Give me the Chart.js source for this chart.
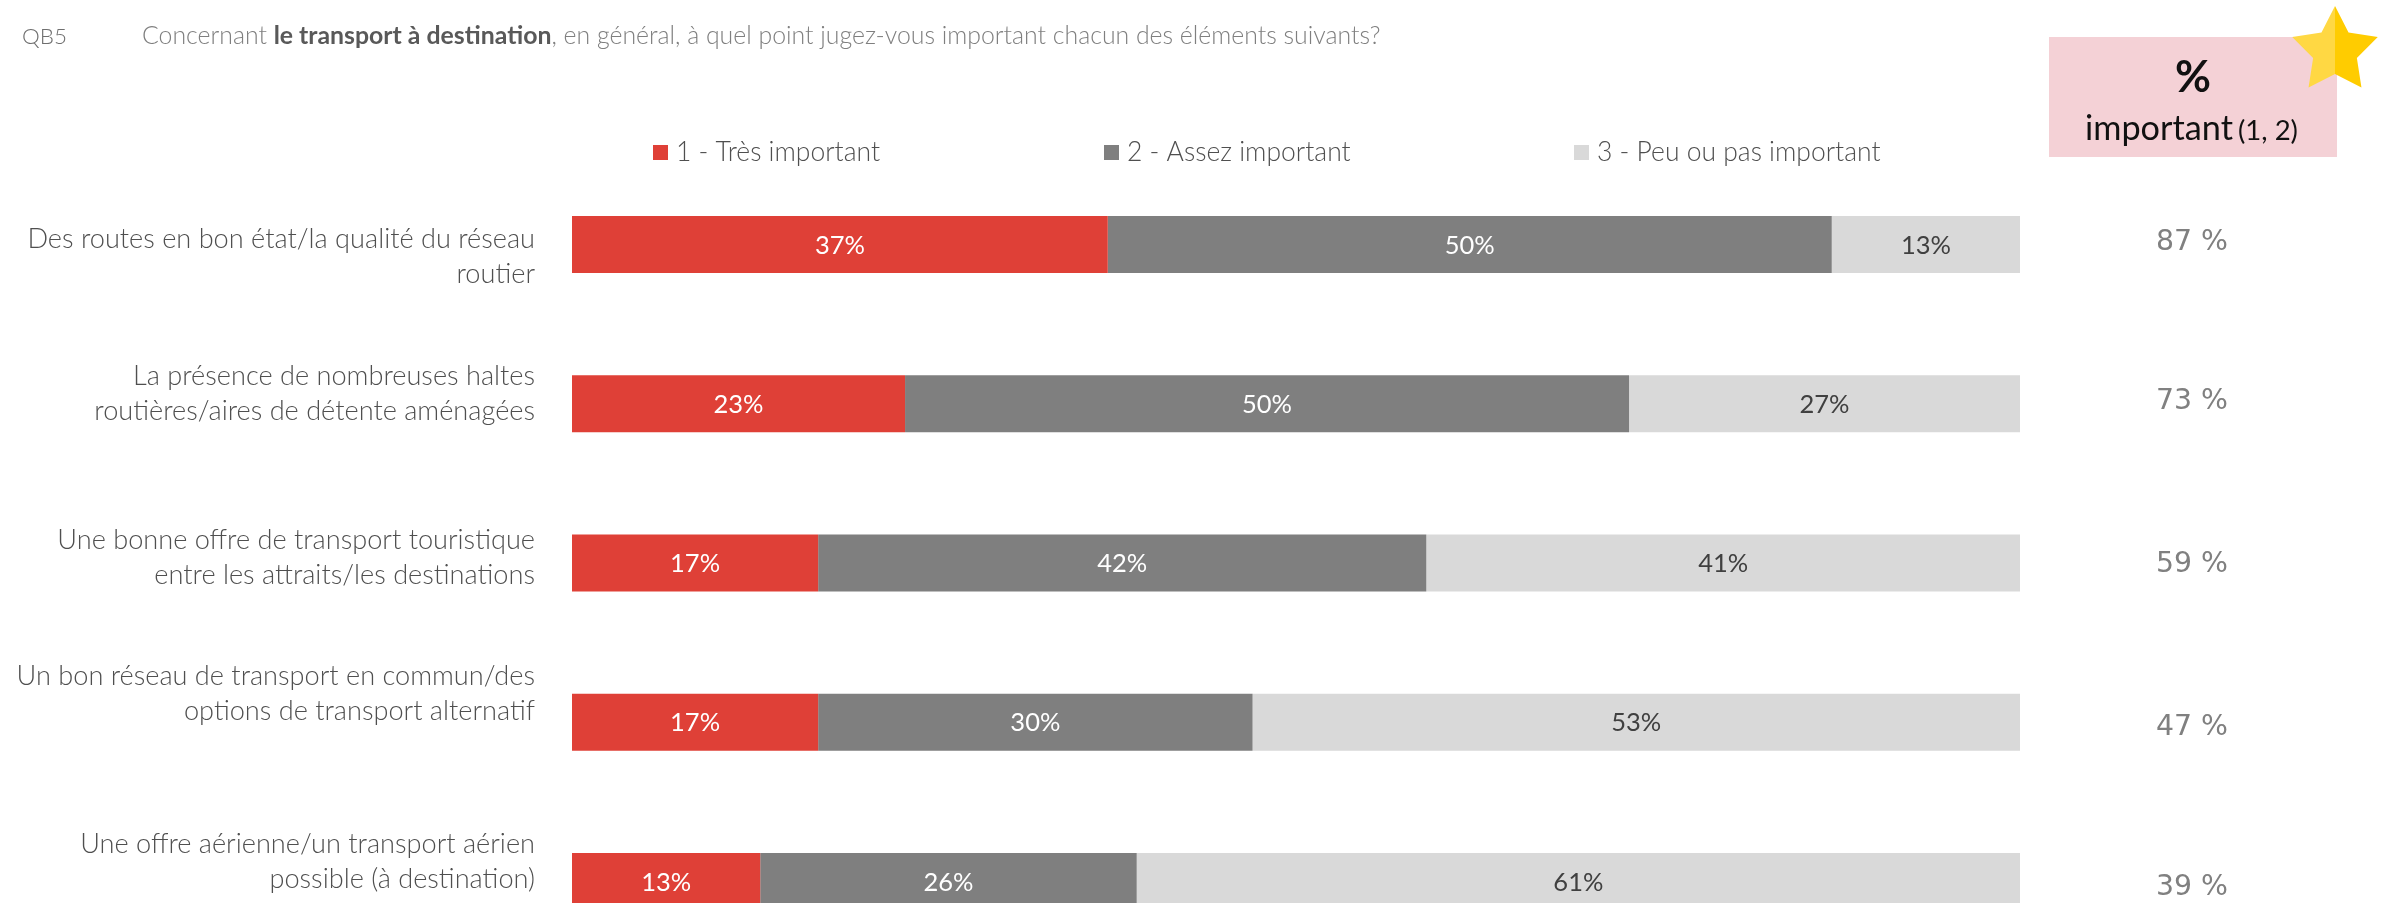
<!DOCTYPE html>
<html><head><meta charset="utf-8">
<script src="https://cdn.jsdelivr.net/npm/chart.js@4.4.1/dist/chart.umd.min.js"></script>
<style>
html,body{margin:0;padding:0;background:#fff;overflow:hidden;width:2392px;height:903px}
#wrap{position:relative;width:2392px;height:961px}
</style>
</head><body><div id="wrap"><canvas id="c" width="2392" height="961"></canvas></div>
<script>
// ---- data ----
const categories = [
  ["Des routes en bon état/la qualité du réseau", "routier"],
  ["La présence de nombreuses haltes", "routières/aires de détente aménagées"],
  ["Une bonne offre de transport touristique", "entre les attraits/les destinations"],
  ["Un bon réseau de transport en commun/des", "options de transport alternatif"],
  ["Une offre aérienne/un transport aérien", "possible (à destination)"]
];
const seriesNames = ["1 - Très important", "2 - Assez important", "3 - Peu ou pas important"];
const tresImportant = [37, 23, 17, 17, 13];
const assezImportant = [50, 50, 42, 30, 26];
const peuImportant = [13, 27, 41, 53, 61];
const totalImportant = [87, 73, 59, 47, 39];
const questionCode = "QB5";
const questionParts = ["Concernant ", "le transport à destination", ", en général, à quel point jugez-vous important chacun des éléments suivants?"];
const boxTitle = "%";
const boxSub = ["important", "(1, 2)"];

// ---- styles ----
const colors = ["#DF4037", "#7F7F7F", "#D9D9D9"];
const labelColors = ["#FFFFFF", "#FFFFFF", "#404040"];
const FONT = "Lato, 'Open Sans', sans-serif";
const LIGHT = "300";
const labelShift = [3, -19, -14, -37, -28];   // first-line baseline offset from bar centre
const totalShift = [-2, -2, 2, 5, 6];
const legendX = [653, 1104, 1574];

function fitSize(ctx, text, weight, family, target) {
  ctx.font = weight + " 100px " + family;
  return 100 * target / ctx.measureText(text).width;
}

const decor = {
  id: "decor",
  afterDatasetsDraw(chart) {
    const ctx = chart.ctx;
    ctx.save();
    const s = fitSize(ctx, "50%", "normal", FONT, 50);
    ctx.font = "normal " + s + "px " + FONT;
    ctx.textAlign = "center";
    ctx.textBaseline = "middle";
    chart.data.datasets.forEach((ds, di) => {
      const meta = chart.getDatasetMeta(di);
      meta.data.forEach((bar, i) => {
        const v = ds.data[i];
        ctx.fillStyle = labelColors[di];
        ctx.fillText(v + "%", (bar.x + bar.base) / 2, bar.y + 1);
      });
    });
    ctx.restore();
  },
  afterDraw(chart) {
    const ctx = chart.ctx;
    const y = chart.scales.y;
    ctx.save();

    // title
    ctx.textBaseline = "alphabetic";
    ctx.textAlign = "left";
    let qs = fitSize(ctx, questionCode, LIGHT, FONT, 45);
    ctx.font = LIGHT + " " + qs + "px " + FONT;
    ctx.fillStyle = "#6F6F6F";
    ctx.fillText(questionCode, 22, 44);
    ctx.font = LIGHT + " 100px " + FONT;
    let w = ctx.measureText(questionParts[0]).width + ctx.measureText(questionParts[2]).width;
    ctx.font = "bold 100px " + FONT;
    w += ctx.measureText(questionParts[1]).width;
    const ts = 100 * 1239 / w;
    let x = 142;
    questionParts.forEach((p, i) => {
      ctx.font = (i === 1 ? "bold " : LIGHT + " ") + ts + "px " + FONT;
      ctx.fillStyle = i === 1 ? "#595959" : "#7F7F7F";
      ctx.fillText(p, x, 44);
      x += ctx.measureText(p).width;
    });

    // legend
    const ls = fitSize(ctx, seriesNames[0], LIGHT, FONT, 204);
    ctx.font = LIGHT + " " + ls + "px " + FONT;
    seriesNames.forEach((n, i) => {
      ctx.fillStyle = colors[i];
      ctx.fillRect(legendX[i], 145, 15, 15);
      ctx.fillStyle = "#4F4F4F";
      ctx.fillText(n, legendX[i] + 23, 161);
    });

    // category labels
    const cs = fitSize(ctx, categories[0][0], LIGHT, FONT, 508);
    ctx.font = LIGHT + " " + cs + "px " + FONT;
    ctx.textAlign = "right";
    ctx.fillStyle = "#4F4F4F";
    categories.forEach((lines, i) => {
      const cy = y.getPixelForValue(i);
      lines.forEach((ln, k) => ctx.fillText(ln, 535, cy + labelShift[i] + k * 35));
    });

    // totals
    const ps = fitSize(ctx, "87 %", "normal", "'DejaVu Sans'", 72);
    ctx.font = "normal " + ps + "px 'DejaVu Sans'";
    ctx.textAlign = "center";
    ctx.textBaseline = "middle";
    ctx.fillStyle = "#808080";
    totalImportant.forEach((v, i) => {
      ctx.fillText(v + " %", 2192, y.getPixelForValue(i) + totalShift[i]);
    });

    // box
    ctx.fillStyle = "#F4D1D6";
    ctx.fillRect(2049, 37, 288, 120);
    ctx.fillStyle = "#111111";
    ctx.textBaseline = "alphabetic";
    const bs = fitSize(ctx, boxTitle, "bold", FONT, 36);
    ctx.font = "bold " + bs + "px " + FONT;
    ctx.fillText(boxTitle, 2193, 92);
    ctx.textAlign = "left";
    const is = fitSize(ctx, boxSub[0], "normal", FONT, 148);
    ctx.font = "normal " + is + "px " + FONT;
    ctx.fillText(boxSub[0], 2085, 140);
    const ss = fitSize(ctx, boxSub[1], "normal", FONT, 60);
    ctx.font = "normal " + ss + "px " + FONT;
    ctx.fillText(boxSub[1], 2238, 140);

    // star
    const cx = 2335, cyS = 51, R = 45, r = 23;
    const pt = (deg, rad) => [cx + rad * Math.cos(deg * Math.PI / 180), cyS + rad * Math.sin(deg * Math.PI / 180)];
    const half = (angles, col) => {
      ctx.beginPath();
      angles.forEach((a, k) => {
        const p = pt(a[0], a[1] ? R : r);
        if (k === 0) ctx.moveTo(p[0], p[1]); else ctx.lineTo(p[0], p[1]);
      });
      ctx.closePath();
      ctx.fillStyle = col;
      ctx.fill();
    };
    half([[-90, 1], [-126, 0], [-162, 1], [162, 0], [126, 1], [90, 0]], "#FFD843");
    half([[-90, 1], [-54, 0], [-18, 1], [18, 0], [54, 1], [90, 0]], "#FFCC00");
    ctx.restore();
  }
};

const seriesValues = [tresImportant, assezImportant, peuImportant];
new Chart(document.getElementById("c"), {
  type: "bar",
  data: {
    labels: categories,
    datasets: seriesValues.map((vals, i) => ({
      label: seriesNames[i],
      data: vals,
      backgroundColor: colors[i],
      borderWidth: 0,
      barPercentage: 0.358,
      categoryPercentage: 1
    }))
  },
  options: {
    indexAxis: "y",
    responsive: false,
    animation: false,
    layout: { padding: { left: 572, right: 372, top: 165, bottom: 0 } },
    scales: {
      x: { stacked: true, min: 0, max: 100, display: false },
      y: { stacked: true, display: false }
    },
    plugins: { legend: { display: false }, tooltip: { enabled: false } }
  },
  plugins: [decor]
});
</script>
</body></html>
